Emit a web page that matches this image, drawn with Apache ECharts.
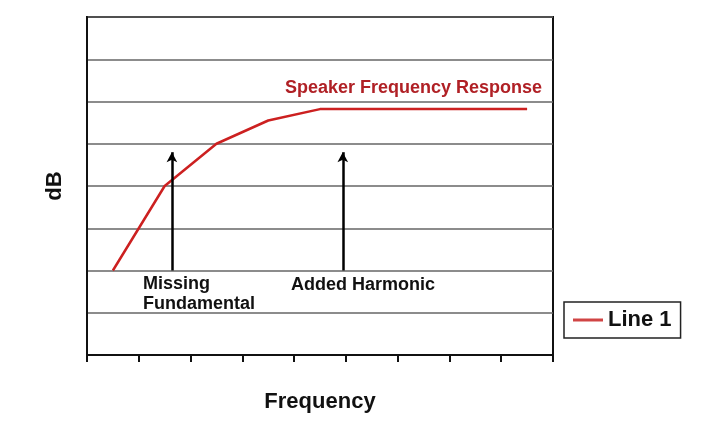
<!DOCTYPE html>
<html>
<head>
<meta charset="utf-8">
<script src="https://cdn.jsdelivr.net/npm/echarts@6/dist/echarts.min.js"></script>
<style>html,body{margin:0;padding:0;background:#fff}#c{width:720px;height:425px}</style>
</head>
<body>
<div id="c"></div>
<script>
// Data
const xPositions = [0.5, 1.5, 2.5, 3.5, 4.5, 5.5, 6.5, 7.5, 8.5];
const dbValues   = [2.0, 4.0, 5.0, 5.55, 5.82, 5.82, 5.82, 5.82, 5.82];
const seriesName = 'Line 1';
const arrowMissing = { x: 1.64, from: 2, to: 4.8 };
const arrowAdded   = { x: 4.94, from: 2, to: 4.8 };
const labelTitle = 'Speaker Frequency Response';
const labelMissing = 'Missing\nFundamental';
const labelAdded = 'Added Harmonic';

const FONT = '"Liberation Sans", Arial, sans-serif';
const chart = echarts.init(document.getElementById('c'), null, {renderer: 'canvas'});
const lineData = xPositions.map((x, i) => [x, dbValues[i]]);

function arrow(a) {
  return [{coord: [a.x, a.from]}, {coord: [a.x, a.to]}];
}

chart.setOption({
  animation: false,
  backgroundColor: '#fff',
  grid: {left: 87, right: 167, top: 17, bottom: 70, show: true, borderColor: '#111', borderWidth: 2, backgroundColor: 'transparent'},
  xAxis: {
    type: 'value', min: 0, max: 9, interval: 1,
    name: 'Frequency', nameLocation: 'middle', nameGap: 36,
    nameTextStyle: {fontFamily: FONT, fontWeight: 'bold', fontSize: 22, color: '#111'},
    axisLine: {show: true, lineStyle: {color: '#111', width: 2}},
    axisTick: {show: true, inside: false, length: 7, lineStyle: {color: '#111', width: 2}},
    axisLabel: {show: false},
    splitLine: {show: false}
  },
  yAxis: {
    type: 'value', min: 0, max: 8, interval: 1,
    name: 'dB', nameLocation: 'middle', nameGap: 21, nameRotate: 90,
    nameTextStyle: {fontFamily: FONT, fontWeight: 'bold', fontSize: 22, color: '#111'},
    axisLine: {show: true, lineStyle: {color: '#111', width: 2}},
    axisTick: {show: false},
    axisLabel: {show: false},
    splitLine: {show: true, lineStyle: {color: '#666', width: 1.6}}
  },
  legend: {
    show: true, left: 564, top: 302,
    data: [{name: seriesName, icon: 'rect'}],
    padding: [7, 9],
    itemWidth: 30, itemHeight: 3, itemGap: 5,
    itemStyle: {color: '#d04545'},
    borderColor: '#222', borderWidth: 1.5, backgroundColor: '#fff',
    textStyle: {fontFamily: FONT, fontWeight: 'bold', fontSize: 22, color: '#111'}
  },
  series: [{
    name: seriesName, type: 'line', data: lineData,
    symbol: 'none', smooth: false,
    lineStyle: {color: '#cc2020', width: 2.5},
    itemStyle: {color: '#cc2020'},
    markLine: {
      silent: true,
      symbol: ['none', 'arrow'],
      symbolSize: [8, 10],
      label: {show: false},
      lineStyle: {color: '#000', width: 2.5, type: 'solid'},
      data: [arrow(arrowMissing), arrow(arrowAdded)]
    }
  }],
  graphic: [
    {type: 'text', left: 285, top: 79, style: {text: labelTitle, fill: '#b02025', font: 'bold 18px ' + FONT}},
    {type: 'text', left: 143, top: 274, style: {text: labelMissing, fill: '#111', font: 'bold 18px ' + FONT, lineHeight: 20}},
    {type: 'text', left: 291, top: 276, style: {text: labelAdded, fill: '#111', font: 'bold 18px ' + FONT}}
  ]
});
</script>
</body>
</html>
